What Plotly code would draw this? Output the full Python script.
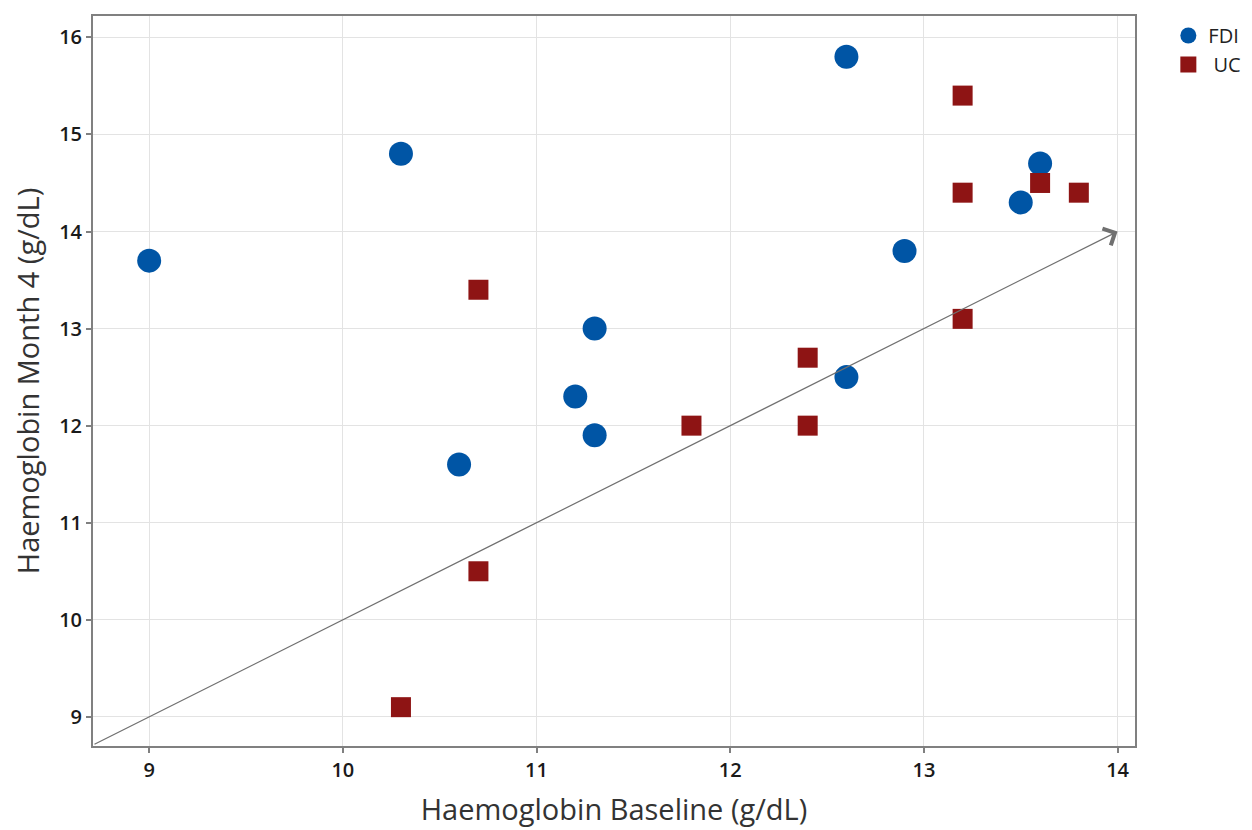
import plotly.graph_objects as go

fdi_x = [9.0, 10.3, 10.6, 11.2, 11.3, 11.3, 12.6, 12.6, 12.9, 13.5, 13.6]
fdi_y = [13.7, 14.8, 11.6, 12.3, 13.0, 11.9, 15.8, 12.5, 13.8, 14.3, 14.7]
uc_x = [10.3, 10.7, 10.7, 11.8, 12.4, 12.4, 13.2, 13.2, 13.2, 13.6, 13.8]
uc_y = [9.1, 13.4, 10.5, 12.0, 12.7, 12.0, 15.4, 14.4, 13.1, 14.5, 14.4]
x_ticks = [9, 10, 11, 12, 13, 14]
y_ticks = [9, 10, 11, 12, 13, 14, 15, 16]
x_range = [8.71, 14.09]
y_range = [8.70, 16.22]
arrow_start = [8.71, 8.71]
arrow_end = [14.0, 14.0]

fig = go.Figure()
fig.add_trace(go.Scatter(x=fdi_x, y=fdi_y, mode="markers", name="FDI",
                         marker=dict(symbol="circle", size=24, color="#0055A5",
                                     line=dict(width=0))))
fig.add_trace(go.Scatter(x=uc_x, y=uc_y, mode="markers", name="\u00a0UC",
                         marker=dict(symbol="square", size=20, color="#8E1414",
                                     line=dict(width=0))))

fig.add_annotation(x=arrow_end[0], y=arrow_end[1], ax=arrow_start[0], ay=arrow_start[1],
                   xref="x", yref="y", axref="x", ayref="y", text="",
                   showarrow=True, arrowhead=4, arrowsize=3, arrowwidth=1.2,
                   arrowcolor="#707070")

axis_common = dict(showgrid=True, gridcolor="#e3e3e3", gridwidth=1,
                   showline=True, linecolor="#808080", linewidth=2, mirror=True,
                   ticks="outside", ticklen=5, tickcolor="#808080", tickwidth=2,
                   zeroline=False,
                   tickfont=dict(family="Open Sans", size=20, color="#1a1a1a", weight=600))

fig.update_layout(
    width=1252, height=830,
    paper_bgcolor="white", plot_bgcolor="white",
    margin=dict(l=85, r=125, t=6, b=92),
    xaxis=dict(range=x_range, tickvals=x_ticks,
               title=dict(text="Haemoglobin Baseline (g/dL)", standoff=18,
                          font=dict(family="Open Sans", size=29, color="#333333")),
               **axis_common),
    yaxis=dict(range=y_range, tickvals=y_ticks,
               title=dict(text="Haemoglobin Month 4 (g/dL)", standoff=16,
                          font=dict(family="Open Sans", size=29, color="#333333")),
               **axis_common),
    legend=dict(x=1.032, y=1.0, xanchor="left", yanchor="top",
                font=dict(family="Open Sans", size=20, color="#222222"),
                itemsizing="trace", tracegroupgap=6),
)

fig.write_html("out.html")
